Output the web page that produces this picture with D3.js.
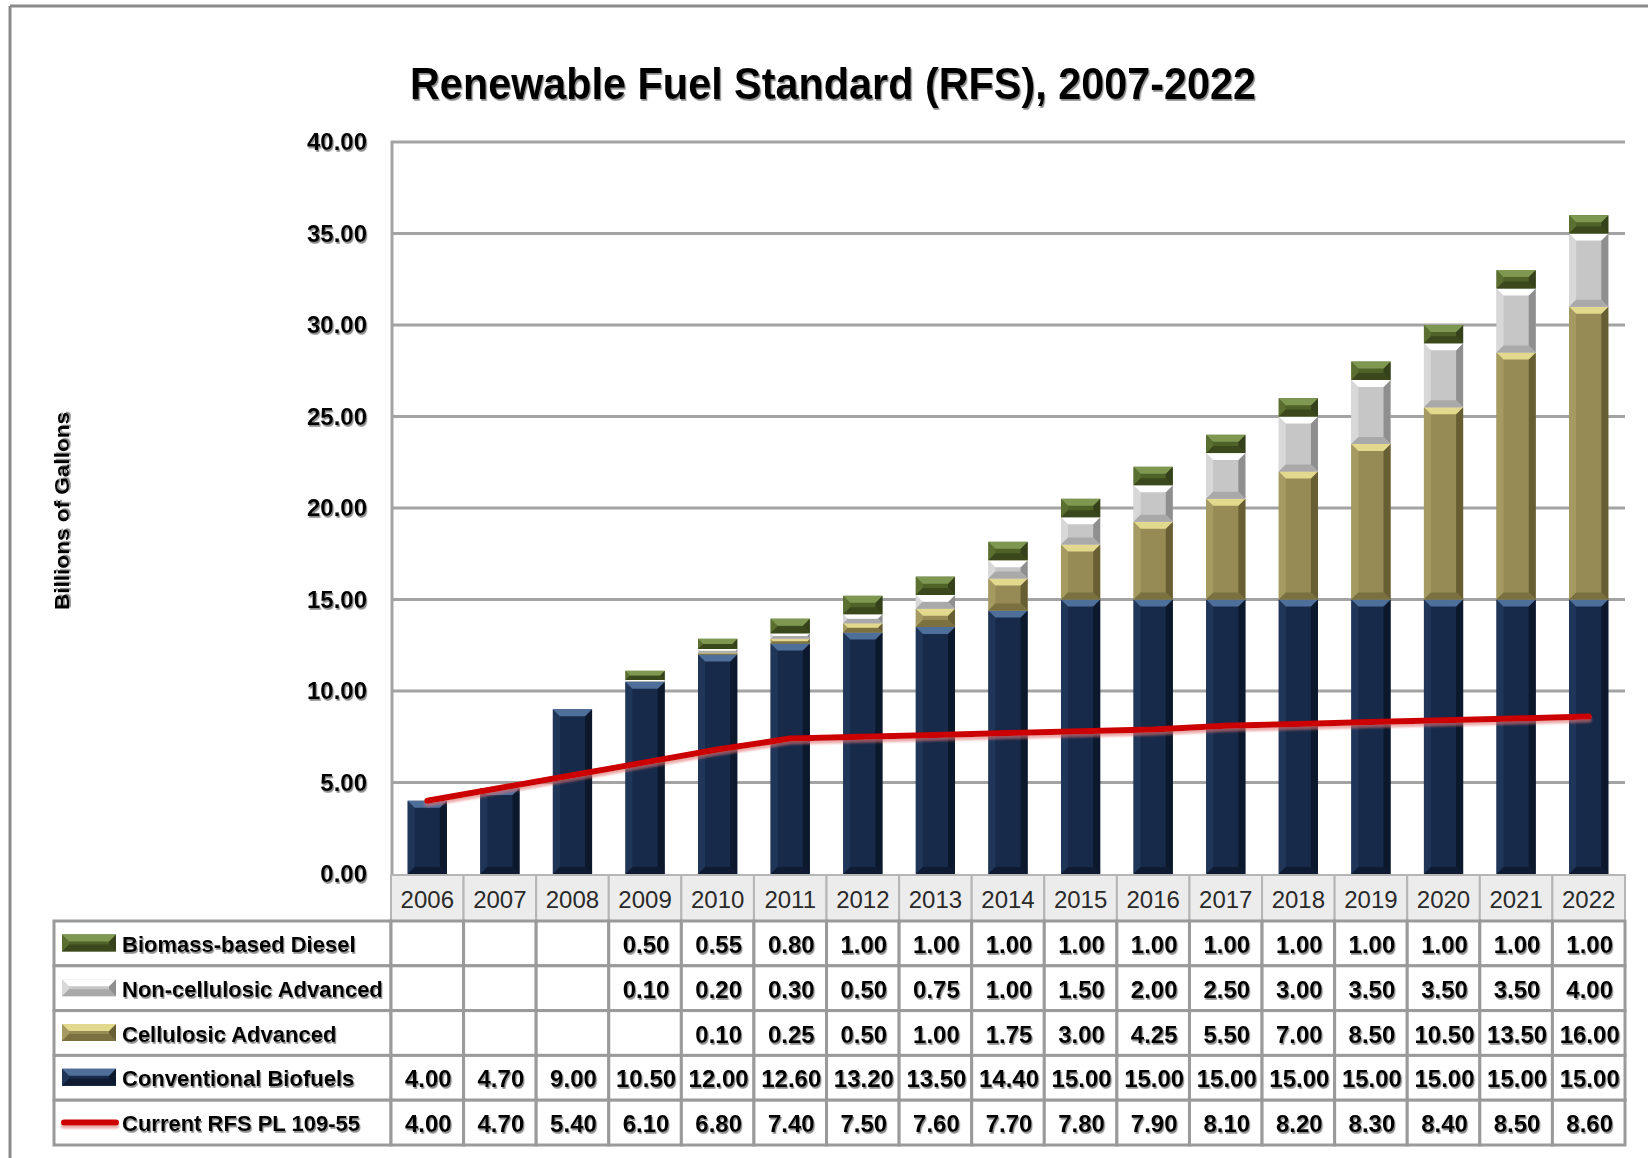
<!DOCTYPE html>
<html>
<head>
<meta charset="utf-8">
<script src="https://cdn.jsdelivr.net/npm/d3@7"></script>
<style>
  html, body { margin: 0; padding: 0; background: #ffffff; }
  svg { display: block; }
</style>
</head>
<body>
<script>
// ---------- DATA ----------
const years = ["2006","2007","2008","2009","2010","2011","2012","2013","2014","2015","2016","2017","2018","2019","2020","2021","2022"];
const conventional   = [4.00, 4.70, 9.00, 10.50, 12.00, 12.60, 13.20, 13.50, 14.40, 15.00, 15.00, 15.00, 15.00, 15.00, 15.00, 15.00, 15.00];
const cellulosic     = [null, null, null, null, 0.10, 0.25, 0.50, 1.00, 1.75, 3.00, 4.25, 5.50, 7.00, 8.50, 10.50, 13.50, 16.00];
const nonCellulosic  = [null, null, null, 0.10, 0.20, 0.30, 0.50, 0.75, 1.00, 1.50, 2.00, 2.50, 3.00, 3.50, 3.50, 3.50, 4.00];
const biomassDiesel  = [null, null, null, 0.50, 0.55, 0.80, 1.00, 1.00, 1.00, 1.00, 1.00, 1.00, 1.00, 1.00, 1.00, 1.00, 1.00];
const currentRFS     = [4.00, 4.70, 5.40, 6.10, 6.80, 7.40, 7.50, 7.60, 7.70, 7.80, 7.90, 8.10, 8.20, 8.30, 8.40, 8.50, 8.60];
const seriesNames    = ["Conventional Biofuels", "Cellulosic Advanced", "Non-cellulosic Advanced", "Biomass-based Diesel"];
const lineName       = "Current RFS PL 109-55";
const yTicks         = [0, 5, 10, 15, 20, 25, 30, 35, 40];
const titleText      = "Renewable Fuel Standard (RFS), 2007-2022";
const yAxisTitle     = "Billions of Gallons";

// ---------- STYLES ----------
const palette = {
  "Conventional Biofuels":   {base:"#172a4a", top:"#4f6f9b", bottom:"#0e1b33", left:"#203659", right:"#0c182c"},
  "Cellulosic Advanced":     {base:"#968b55", top:"#e2d88e", bottom:"#7a7040", left:"#a59b62", right:"#675e34"},
  "Non-cellulosic Advanced": {base:"#c6c6c6", top:"#ffffff", bottom:"#a9a9a9", left:"#d8d8d8", right:"#8f8f8f"},
  "Biomass-based Diesel":    {base:"#4f6228", top:"#7e9852", bottom:"#3a481c", left:"#5b6f30", right:"#34411a"}
};
const lineColor = "#cc0000";
const W = 1648, H = 1158;

const svg = d3.select("body").append("svg").attr("width", W).attr("height", H);
const defs = svg.append("defs");
const f1 = defs.append("filter").attr("id","txtShadow").attr("x","-5%").attr("y","-20%").attr("width","115%").attr("height","160%");
f1.append("feDropShadow").attr("dx",1.2).attr("dy",1.8).attr("stdDeviation",0.6).attr("flood-color","#666").attr("flood-opacity",0.75);
const f2 = defs.append("filter").attr("id","lineShadow").attr("filterUnits","userSpaceOnUse")
  .attr("x",0).attr("y",0).attr("width",W).attr("height",H);
f2.append("feDropShadow").attr("dx",0).attr("dy",3).attr("stdDeviation",1.2).attr("flood-color","#e07070").attr("flood-opacity",0.6);

// outer frame
svg.append("line").attr("x1",10).attr("x2",W).attr("y1",6).attr("y2",6).attr("stroke","#8a8a8a").attr("stroke-width",3);
svg.append("line").attr("x1",10).attr("x2",10).attr("y1",6).attr("y2",H).attr("stroke","#8a8a8a").attr("stroke-width",3);

// ---------- SCALES ----------
const plotLeft = 391, plotRight = 1625, plotTop = 142, plotBottom = 874;
const x = d3.scaleBand().domain(years).range([plotLeft, plotRight]).paddingInner(0.46).paddingOuter(0.23);
const xCol = d3.scaleBand().domain(years).range([plotLeft, plotRight]).padding(0);
const y = d3.scaleLinear().domain([0, 40]).range([plotBottom, plotTop]);

// title
svg.append("text").attr("x", 833).attr("y", 99).attr("text-anchor","middle")
  .attr("font-family","'Liberation Sans', Arial, sans-serif").attr("font-weight","bold").attr("font-size",45)
  .attr("textLength", 846).attr("lengthAdjust","spacingAndGlyphs")
  .attr("fill","#000").attr("filter","url(#txtShadow)").text(titleText);

// y axis title
svg.append("text").attr("transform","translate(69,511) rotate(-90)").attr("text-anchor","middle")
  .attr("font-family","'Liberation Sans', Arial, sans-serif").attr("font-weight","bold").attr("font-size",21)
  .attr("textLength",198).attr("lengthAdjust","spacingAndGlyphs")
  .attr("fill","#000").attr("filter","url(#txtShadow)").text(yAxisTitle);

// gridlines
svg.append("g").selectAll("line").data(yTicks.filter(d => d > 0)).join("line")
  .attr("x1", plotLeft).attr("x2", plotRight).attr("y1", d => y(d)).attr("y2", d => y(d))
  .attr("stroke","#a3a3a3").attr("stroke-width",3);

// y axis
const yAxis = svg.append("g").attr("transform",`translate(${plotLeft},0)`)
  .call(d3.axisLeft(y).tickValues(yTicks).tickFormat(d3.format(".2f")).tickSize(0).tickPadding(24));
yAxis.select(".domain").remove();
yAxis.selectAll("text").attr("font-family","'Liberation Sans', Arial, sans-serif").attr("font-weight","bold")
  .attr("font-size",24).attr("fill","#000").attr("filter","url(#txtShadow)");
svg.append("line").attr("x1",plotLeft+1).attr("x2",plotLeft+1).attr("y1",plotTop-1).attr("y2",plotBottom+1)
  .attr("stroke","#a3a3a3").attr("stroke-width",3);

// ---------- BEVEL BAR ----------
function bevel(g, x0, y0, w, h, c) {
  if (h <= 0) return;
  const b = Math.min(7, h / 2, w / 2);
  const x1 = x0 + w, y1 = y0 + h;
  g.append("rect").attr("x",x0).attr("y",y0).attr("width",w).attr("height",h).attr("fill",c.base);
  const pts = a => a.map(p => p.join(",")).join(" ");
  g.append("polygon").attr("points", pts([[x0,y0],[x0+b,y0+b],[x0+b,y1-b],[x0,y1]])).attr("fill",c.left);
  g.append("polygon").attr("points", pts([[x1,y0],[x1-b,y0+b],[x1-b,y1-b],[x1,y1]])).attr("fill",c.right);
  g.append("polygon").attr("points", pts([[x0,y1],[x0+b,y1-b],[x1-b,y1-b],[x1,y1]])).attr("fill",c.bottom);
  g.append("polygon").attr("points", pts([[x0,y0],[x1,y0],[x1-b,y0+b],[x0+b,y0+b]])).attr("fill",c.top);
}

// stacked bars
const stackData = years.map((yr, i) => ({
  year: yr,
  "Conventional Biofuels": conventional[i] || 0,
  "Cellulosic Advanced": cellulosic[i] || 0,
  "Non-cellulosic Advanced": nonCellulosic[i] || 0,
  "Biomass-based Diesel": biomassDiesel[i] || 0
}));
const stacked = d3.stack().keys(seriesNames)(stackData);
const barsG = svg.append("g");
stacked.forEach(layer => {
  const c = palette[layer.key];
  layer.forEach((seg, i) => {
    const v = seg[1] - seg[0];
    if (v <= 0) return;
    const yr = years[i];
    bevel(barsG.append("g"), x(yr), y(seg[1]), x.bandwidth(), y(seg[0]) - y(seg[1]), c);
  });
});

// red line
const line = d3.line().x((d, i) => x(years[i]) + x.bandwidth() / 2).y(d => y(d));
svg.append("path").datum(currentRFS).attr("d", line).attr("fill","none")
  .attr("stroke", lineColor).attr("stroke-width", 6).attr("stroke-linecap","round").attr("stroke-linejoin","round")
  .attr("filter","url(#lineShadow)");

// ---------- DATA TABLE ----------
const headTop = 875, headBottom = 921, tableLeft = 54, rowH = 44.8;
const tableRows = [
  {name: "Biomass-based Diesel", values: biomassDiesel, type: "bar"},
  {name: "Non-cellulosic Advanced", values: nonCellulosic, type: "bar"},
  {name: "Cellulosic Advanced", values: cellulosic, type: "bar"},
  {name: "Conventional Biofuels", values: conventional, type: "bar"},
  {name: lineName, values: currentRFS, type: "line"}
];
const tableG = svg.append("g");
// header row
tableG.selectAll("rect.head").data(years).join("rect").attr("class","head")
  .attr("x", d => xCol(d)).attr("y", headTop).attr("width", xCol.bandwidth()).attr("height", headBottom - headTop)
  .attr("fill","#ececec").attr("stroke","#b5b5b5").attr("stroke-width",2);
tableG.selectAll("text.head").data(years).join("text").attr("class","head")
  .attr("x", d => xCol(d) + xCol.bandwidth() / 2).attr("y", (headTop + headBottom) / 2 + 1)
  .attr("text-anchor","middle").attr("dominant-baseline","central")
  .attr("font-family","'Liberation Sans', Arial, sans-serif").attr("font-size",24).attr("fill","#2a2a2a").text(d => d);

const fmt = d3.format(".2f");
tableRows.forEach((row, r) => {
  const ry = headBottom + r * rowH;
  const cy = ry + rowH / 2;
  // legend cell
  tableG.append("rect").attr("x", tableLeft).attr("y", ry).attr("width", plotLeft - tableLeft).attr("height", rowH)
    .attr("fill","#fff").attr("stroke","#9a9a9a").attr("stroke-width",3);
  if (row.type === "bar") {
    bevel(tableG.append("g"), 62, cy - 9, 54, 17, palette[row.name]);
  } else {
    tableG.append("line").attr("x1", 64).attr("x2", 116).attr("y1", cy).attr("y2", cy)
      .attr("stroke", lineColor).attr("stroke-width", 6).attr("stroke-linecap","round").attr("filter","url(#lineShadow)");
  }
  tableG.append("text").attr("x", 122).attr("y", cy + 1).attr("dominant-baseline","central")
    .attr("font-family","'Liberation Sans', Arial, sans-serif").attr("font-weight","bold").attr("font-size",22)
    .attr("fill","#000").attr("filter","url(#txtShadow)").text(row.name);
  // value cells
  tableG.append("g").selectAll("rect").data(years).join("rect")
    .attr("x", d => xCol(d)).attr("y", ry).attr("width", xCol.bandwidth()).attr("height", rowH)
    .attr("fill","#fff").attr("stroke","#9a9a9a").attr("stroke-width",3);
  tableG.append("g").selectAll("text").data(row.values).join("text")
    .attr("x", (d, i) => xCol(years[i]) + xCol.bandwidth() / 2 + 1).attr("y", cy + 1)
    .attr("text-anchor","middle").attr("dominant-baseline","central")
    .attr("font-family","'Liberation Sans', Arial, sans-serif").attr("font-weight","bold").attr("font-size",24)
    .attr("fill","#000").attr("filter","url(#txtShadow)")
    .text(d => d == null ? "" : fmt(d));
});
</script>
</body>
</html>
